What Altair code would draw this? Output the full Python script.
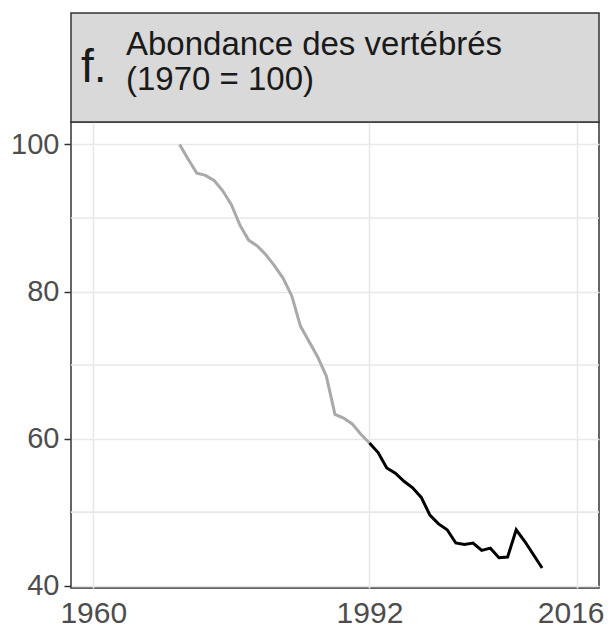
import altair as alt
import pandas as pd

# ---- data ----
years = list(range(1970, 2013))
values = [100.0, 98.0, 96.1, 95.8, 95.1, 93.7, 91.8, 89.0, 87.0, 86.2,
          85.0, 83.5, 81.8, 79.4, 75.3, 73.2, 71.1, 68.5, 63.3, 62.8,
          62.0, 60.6, 59.4, 58.1, 56.0, 55.3, 54.2, 53.3, 52.0, 49.6,
          48.4, 47.6, 45.8, 45.6, 45.8, 44.8, 45.1, 43.8, 43.9, 47.6,
          46.0, 44.2, 42.4]
split_year = 1992
x_ticks = [1960, 1992, 2016]
y_ticks = [40, 60, 80, 100]
y_minor = [50, 70, 90]
panel_letter = "f."
panel_title = ["Abondance des vertébrés", "(1970 = 100)"]

rows = []
for y, v in zip(years, values):
    if y <= split_year:
        rows.append({"year": y, "value": v, "period": "early"})
    if y >= split_year:
        rows.append({"year": y, "value": v, "period": "late"})
df = pd.DataFrame(rows)
minor_df = pd.DataFrame({"v": y_minor})

W, H = 528, 466
FONT = "Liberation Sans"

xscale = alt.Scale(domain=[1957.42, 2018.59], nice=False, zero=False)
yscale = alt.Scale(domain=[39.68, 103.06], nice=False, zero=False)

minor = alt.Chart(minor_df).mark_rule(color="#e8e8e8", strokeWidth=1.6).encode(
    y=alt.Y("v:Q", scale=yscale)
)

lines = alt.Chart(df).mark_line(strokeWidth=3).encode(
    x=alt.X("year:Q", scale=xscale, title=None,
            axis=alt.Axis(values=x_ticks, format="d", ticks=False, tickSize=0,
                          labelPadding=10, labelFontSize=30, domain=False,
                          grid=True, labelFlush=False,
                          labelOffset={"condition": {"test": "datum.value == 2016", "value": -6},
                                       "value": 0})),
    y=alt.Y("value:Q", scale=yscale, title=None,
            axis=alt.Axis(values=y_ticks, ticks=True, tickSize=7, labelPadding=5,
                          labelFontSize=29, domain=False, grid=True)),
    color=alt.Color("period:N", legend=None,
                    scale=alt.Scale(domain=["early", "late"], range=["#a9a9a9", "#000000"])),
    detail="period:N",
)

hdr_df = pd.DataFrame({"a": [0]})
header = alt.Chart(hdr_df).mark_rect(fill="#d9d9d9", stroke="#333333", strokeWidth=1.5).encode(
    x=alt.value(0), x2=alt.value(W), y=alt.value(-109), y2=alt.value(0)
)
letter = alt.Chart(hdr_df).mark_text(
    text=panel_letter, font=FONT, fontSize=46, align="left", baseline="alphabetic", color="#1a1a1a"
).encode(x=alt.value(10), y=alt.value(-40))
title1 = alt.Chart(hdr_df).mark_text(
    text=panel_title[0], font=FONT, fontSize=33, align="left", baseline="alphabetic", color="#1a1a1a"
).encode(x=alt.value(55), y=alt.value(-67))
title2 = alt.Chart(hdr_df).mark_text(
    text=panel_title[1], font=FONT, fontSize=33, align="left", baseline="alphabetic", color="#1a1a1a"
).encode(x=alt.value(55), y=alt.value(-32))

chart = alt.layer(minor, lines, header, letter, title1, title2).properties(
    width=W, height=H,
    autosize=alt.AutoSizeParams(type="none"),
    padding={"left": 63, "top": 114, "right": 6, "bottom": 41},
).configure_view(
    stroke="#333333", strokeWidth=1.5
).configure_axis(
    labelFont=FONT, labelColor="#4d4d4d", gridColor="#e8e8e8", gridWidth=1.6,
    tickColor="#333333", tickWidth=1.5
)

chart.save("out.html", embed_options={"renderer": "svg", "actions": False})
